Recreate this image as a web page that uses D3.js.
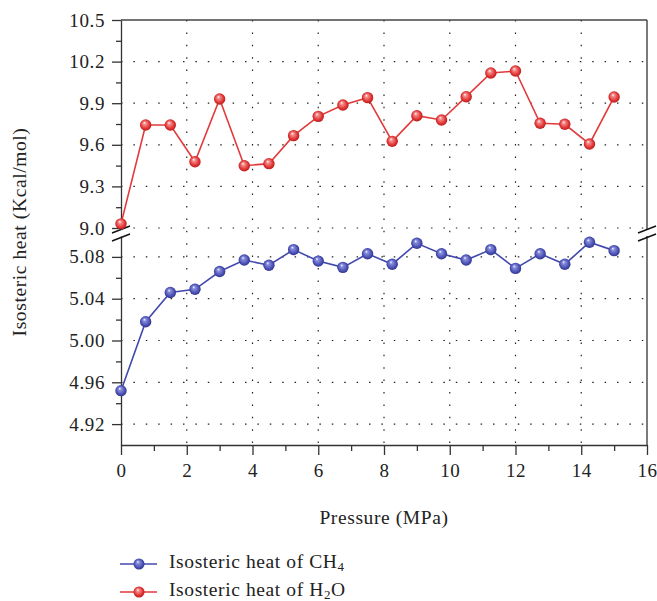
<!DOCTYPE html>
<html>
<head>
<meta charset="utf-8">
<script src="https://cdn.jsdelivr.net/npm/d3@7"></script>
<style>
  body { margin: 0; background: #fff; }
  svg text { font-family: "Liberation Serif", "DejaVu Serif", serif; fill: #222; letter-spacing: 0.6px; }
  .axis path, .axis line { stroke: #333; stroke-width: 1.3; }
  .grid line { stroke: #222; stroke-width: 1.2; stroke-dasharray: 1.5,10.9; }
</style>
</head>
<body>
<svg id="chart" width="657" height="601"></svg>
<script>
// pressure values (MPa)
const pressure = [0, 0.75, 1.5, 2.25, 3, 3.75, 4.5, 5.25, 6, 6.75, 7.5, 8.25, 9, 9.75, 10.5, 11.25, 12, 12.75, 13.5, 14.25, 15];
// isosteric heat of H2O (Kcal/mol)
const h2o = [9.03, 9.743, 9.743, 9.478, 9.93, 9.449, 9.464, 9.666, 9.805, 9.887, 9.94, 9.625, 9.81, 9.779, 9.947, 10.118, 10.132, 9.755, 9.748, 9.606, 9.945];
// isosteric heat of CH4 (Kcal/mol)
const ch4 = [4.952, 5.018, 5.046, 5.049, 5.066, 5.077, 5.072, 5.087, 5.076, 5.070, 5.083, 5.073, 5.093, 5.083, 5.077, 5.087, 5.069, 5.083, 5.073, 5.094, 5.086];

const xTicks = [0, 2, 4, 6, 8, 10, 12, 14, 16];
const topTicks = [9.0, 9.3, 9.6, 9.9, 10.2, 10.5];
const bottomTicks = [4.92, 4.96, 5.00, 5.04, 5.08];

const svg = d3.select("#chart");
const left = 121, right = 647;
const topY0 = 228, topY1 = 20;     // top panel pixel range
const botY0 = 445, botY1 = 236;    // bottom panel pixel range

const x = d3.scaleLinear().domain([0, 16]).range([left, right]);
const yTop = d3.scaleLinear().domain([9.0, 10.5]).range([topY0, topY1]);
const yBot = d3.scaleLinear().domain([4.90, 5.10]).range([botY0, botY1]);

const blue = "#4149ad", red = "#e3393a";
const serif = "'Liberation Serif', 'DejaVu Serif', serif";

// gradients for shiny markers
const defs = svg.append("defs");
function makeGrad(id, light, mid, dark) {
  const g = defs.append("radialGradient").attr("id", id)
    .attr("cx", "0.5").attr("cy", "0.5").attr("r", "0.55")
    .attr("fx", "0.38").attr("fy", "0.3");
  g.append("stop").attr("offset", "0").attr("stop-color", "#ffffff");
  g.append("stop").attr("offset", "0.22").attr("stop-color", light);
  g.append("stop").attr("offset", "0.7").attr("stop-color", mid);
  g.append("stop").attr("offset", "1").attr("stop-color", dark);
}
makeGrad("gBlue", "#8a90dc", "#4a50b4", "#2b2f80");
makeGrad("gRed", "#f59090", "#e23232", "#a81a1a");

// grid
const grid = svg.append("g").attr("class", "grid");
grid.selectAll(".vx").data(xTicks.slice(1, -1)).join("line")
  .attr("x1", d => x(d)).attr("x2", d => x(d))
  .attr("y1", topY1).attr("y2", botY0);
grid.selectAll(".ht").data(topTicks.slice(0, -1)).join("line")
  .attr("x1", left).attr("x2", right)
  .attr("y1", d => yTop(d)).attr("y2", d => yTop(d));
grid.selectAll(".hb").data(bottomTicks).join("line")
  .attr("x1", left).attr("x2", right)
  .attr("y1", d => yBot(d)).attr("y2", d => yBot(d));

// axes
function styleAxis(g) {
  g.attr("font-family", serif).attr("font-size", 19);
  g.selectAll("text").attr("fill", "#222");
}
svg.append("g").attr("class", "axis").attr("transform", `translate(0,${botY0})`)
  .call(d3.axisBottom(x).tickValues(xTicks).tickSize(10).tickPadding(9).tickSizeOuter(0))
  .call(styleAxis);
svg.append("g").attr("class", "axis").attr("transform", `translate(0,${botY0})`)
  .call(d3.axisBottom(x).tickValues(d3.range(1, 16, 2)).tickSize(6).tickFormat("").tickSizeOuter(0))
  .select(".domain").remove();

svg.append("g").attr("class", "axis").attr("transform", `translate(${left},0)`)
  .call(d3.axisLeft(yTop).tickValues(topTicks).tickSize(9).tickPadding(7).tickSizeOuter(0).tickFormat(d3.format(".1f")))
  .call(styleAxis);
svg.append("g").attr("class", "axis").attr("transform", `translate(${left},0)`)
  .call(d3.axisLeft(yTop).tickValues([9.15, 9.45, 9.75, 10.05, 10.35]).tickSize(5).tickFormat("").tickSizeOuter(0))
  .select(".domain").remove();

svg.append("g").attr("class", "axis").attr("transform", `translate(${left},0)`)
  .call(d3.axisLeft(yBot).tickValues(bottomTicks).tickSize(9).tickPadding(7).tickSizeOuter(0).tickFormat(d3.format(".2f")))
  .call(styleAxis);
svg.append("g").attr("class", "axis").attr("transform", `translate(${left},0)`)
  .call(d3.axisLeft(yBot).tickValues([4.94, 4.98, 5.02, 5.06]).tickSize(5).tickFormat("").tickSizeOuter(0))
  .select(".domain").remove();

// top frame line and right axis
svg.append("line").attr("x1", left).attr("x2", right).attr("y1", topY1).attr("y2", topY1)
  .attr("stroke", "#444").attr("stroke-width", 1.5);
svg.append("line").attr("x1", right).attr("x2", right).attr("y1", topY1).attr("y2", topY0 + 1)
  .attr("stroke", "#333").attr("stroke-width", 1.3);
svg.append("line").attr("x1", right).attr("x2", right).attr("y1", botY1).attr("y2", botY0)
  .attr("stroke", "#333").attr("stroke-width", 1.3);

// axis break marks
[left, right].forEach(cx => {
  svg.append("rect").attr("x", cx - 3).attr("y", topY0 + 1.5).attr("width", 6).attr("height", botY1 - topY0 - 3).attr("fill", "#fff");
  [topY0 + 1.5, botY1 + 1.5].forEach(cy => {
    svg.append("line").attr("x1", cx - 9).attr("x2", cx + 9)
      .attr("y1", cy + 3.5).attr("y2", cy - 3.5)
      .attr("stroke", "#111").attr("stroke-width", 1.4);
  });
});

// series
function drawSeries(values, yScale, color, grad) {
  const pts = pressure.map((p, i) => [p, values[i]]);
  svg.append("path").datum(pts)
    .attr("fill", "none").attr("stroke", color).attr("stroke-width", 1.6)
    .attr("d", d3.line().x(d => x(d[0])).y(d => yScale(d[1])));
  svg.append("g").selectAll("circle").data(pts).join("circle")
    .attr("cx", d => x(d[0])).attr("cy", d => yScale(d[1])).attr("r", 5.7)
    .attr("fill", `url(#${grad})`);
}
drawSeries(h2o, yTop, red, "gRed");
drawSeries(ch4, yBot, blue, "gBlue");

// axis titles
svg.append("text").attr("x", (left + right) / 2).attr("y", 524)
  .attr("text-anchor", "middle").style("font-size", "19.5px").text("Pressure (MPa)");
svg.append("text").attr("transform", "translate(26,232) rotate(-90)")
  .attr("text-anchor", "middle").style("font-size", "19.5px").text("Isosteric heat (Kcal/mol)");

// legend
const legend = [
  { label: "Isosteric heat of CH", sub: "4", tail: "", color: blue, grad: "gBlue", y: 564, base: 568 },
  { label: "Isosteric heat of H", sub: "2", tail: "O", color: red, grad: "gRed", y: 592, base: 596 }
];
legend.forEach(l => {
  svg.append("line").attr("x1", 120).attr("x2", 157).attr("y1", l.y).attr("y2", l.y)
    .attr("stroke", l.color).attr("stroke-width", 1.6);
  svg.append("circle").attr("cx", 139).attr("cy", l.y).attr("r", 5.5).attr("fill", `url(#${l.grad})`);
  const t = svg.append("text").attr("x", 169).attr("y", l.base).style("font-size", "19.5px");
  t.append("tspan").text(l.label);
  t.append("tspan").attr("dy", 3).style("font-size", "13px").text(l.sub);
  if (l.tail) t.append("tspan").attr("dy", -3).text(l.tail);
});
</script>
</body>
</html>
